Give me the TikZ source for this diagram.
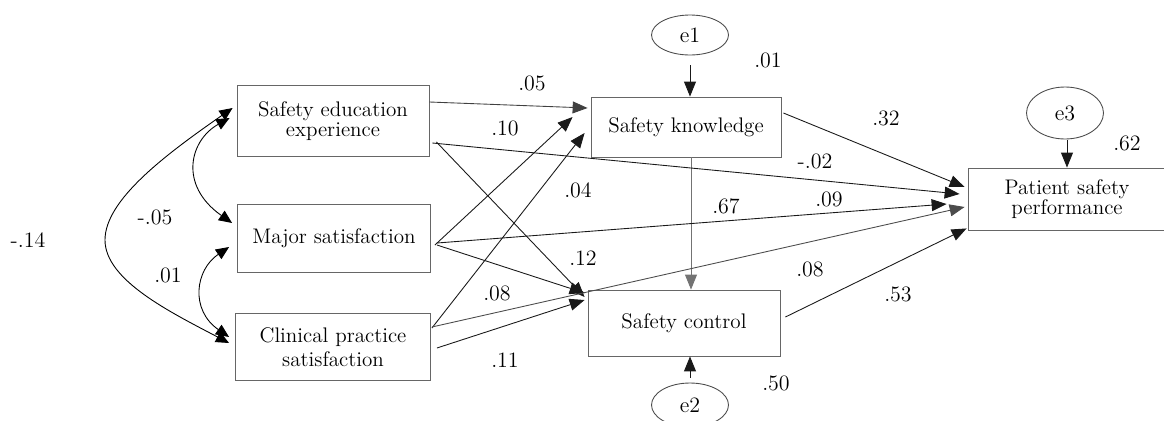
\documentclass[tikz,border=0pt]{standalone}
\usetikzlibrary{arrows.meta,calc,shapes.geometric}
\tikzset{
  var/.style={draw=black!60, line width=0.5pt, rectangle, align=center, inner sep=1pt, font=\fontsize{12}{14}\selectfont},
  err/.style={draw=black!70, line width=0.5pt, ellipse, inner sep=0pt, minimum width=1.54cm, font=\fontsize{12.5}{14}\selectfont},
  coef/.style={inner sep=1pt, font=\fontsize{12.5}{14}\selectfont},
  effect/.style={-{Triangle[length=8.5pt,width=6.8pt]}, line width=0.5pt, black!90},
  cov/.style={{Triangle[length=7.5pt,width=6.5pt]}-{Triangle[length=7.5pt,width=6.5pt]}, line width=0.5pt},
}
\begin{document}
\begin{tikzpicture}[x=0.02cm, y=-0.02cm]
 \useasboundingbox (0,0) rectangle (1164,420);
 	% observed variables
 	\node[var, minimum width=3.84cm, minimum height=1.42cm] (SEE) at (333,121) {Safety education\\[-2.5pt]experience};
 	\node[var, minimum width=3.86cm, minimum height=1.36cm] (MS) at (334,238) {Major satisfaction};
 	\node[var, minimum width=3.9cm, minimum height=1.34cm] (CPS) at (333,347) {Clinical practice\\satisfaction};
 	\node[var, minimum width=3.8cm, minimum height=1.2cm] (SK) at (686,127) {Safety knowledge};
 	\node[var, minimum width=3.84cm, minimum height=1.32cm] (SC) at (684,323) {Safety control};
 	\node[var, minimum width=3.96cm, minimum height=1.24cm] (PSP) at (1067,199) {Patient safety\\[-3pt]performance};
 	% errors
 	\node[err, minimum height=0.8cm] (e1) at (690,35) {e1};
 	\node[err, minimum height=0.88cm] (e2) at (690,405) {e2};
 	\node[err, minimum height=1.04cm] (e3) at (1065,113) {e3};

 	\draw[effect] ($(e1.south)+(0,10)$) -- (e1.south |- SK.north);
 	\draw[effect] ($(e2.north)+(0,-5)$) -- (e2.north |- SC.south);
 	\draw[effect] ($(e3.south)+(2,1)$) -- ($(e3.south |- PSP.north)+(2,0)$);
 	\draw[effect, black!55] ($(SK.south)+(5,0)$) -- ($(SC.north)+(7,0)$);

 	\draw[effect, black!75] ($(SEE.east)+(0,-19)$) -- ($(SK.west)+(-3,-19)$);
 	\draw[effect] ($(SEE.east)+(3,22)$) -- ($(PSP.west)+(-8,-5)$);
 	\draw[effect] ($(SEE.east)+(7,21)$) -- ($(SC.west)+(-3,-26)$);
 	\draw[effect] ($(MS.east)+(4,7)$) -- ($(SK.west)+(-18,-10)$);
 	\draw[effect] ($(MS.east)+(6,5)$) -- ($(PSP.west)+(-21,5)$);
 	\draw[effect] ($(MS.east)+(6,7)$) -- ($(SC.west)+(-3,-30)$);
 	\draw[effect] ($(CPS.east)+(1,-19)$) -- ($(SK.west)+(-6,6)$);
 	\draw[effect, black!70] ($(CPS.east)+(1,-20)$) -- ($(PSP.west)+(-3,8)$);
 	\draw[effect] ($(CPS.east)+(6,1)$) -- ($(SC.west)+(-3,-23)$);
 	\draw[effect] ($(SK.east)+(2,-14)$) -- ($(PSP.west)+(-3,-12)$);
 	\draw[effect] ($(SC.east)+(5,-6)$) -- ($(PSP.south west)+(-1,-2)$);

 	% covariances
 	\draw[cov] ($(SEE.west)+(-4,-13)$) .. controls (165,155) and (105,200) .. (105,240)
 		.. controls (105,280) and (170,312) .. ($(CPS.west)+(-6,-4)$);
 	\draw[cov] ($(SEE.west)+(-7,-3)$) .. controls (190,140) and (178,185) .. ($(MS.west)+(-5,-15)$);
 	\draw[cov] ($(MS.west)+(-8,9)$) .. controls (195,270) and (190,310) .. ($(CPS.west)+(-6,-10)$);

 	% coefficients
 	\node[coef] (c14) at (28,240) {-.14};
 	\node[coef] (c05a) at (155,217) {-.05};
 	\node[coef] (c01a) at (168,275) {.01};
 	\node[coef] (c05) at (532,83) {.05};
 	\node[coef] (c10) at (505,128) {.10};
 	\node[coef] (c04) at (578,190) {.04};
 	\node[coef] (c12) at (583,258) {.12};
 	\node[coef] (c08a) at (497,293) {.08};
 	\node[coef] (c11) at (505,360) {.11};
 	\node[coef] (c67) at (726,206) {.67};
 	\node[coef] (c01) at (768,60) {.01};
 	\node[coef] (c50) at (776,383) {.50};
 	\node[coef] (c32) at (886,118) {.32};
 	\node[coef] (c02) at (815,161) {-.02};
 	\node[coef] (c09) at (829,199) {.09};
 	\node[coef] (c08b) at (810,269) {.08};
 	\node[coef] (c53) at (898,294) {.53};
 	\node[coef] (c62) at (1127,143) {.62};
\end{tikzpicture}
\end{document}
